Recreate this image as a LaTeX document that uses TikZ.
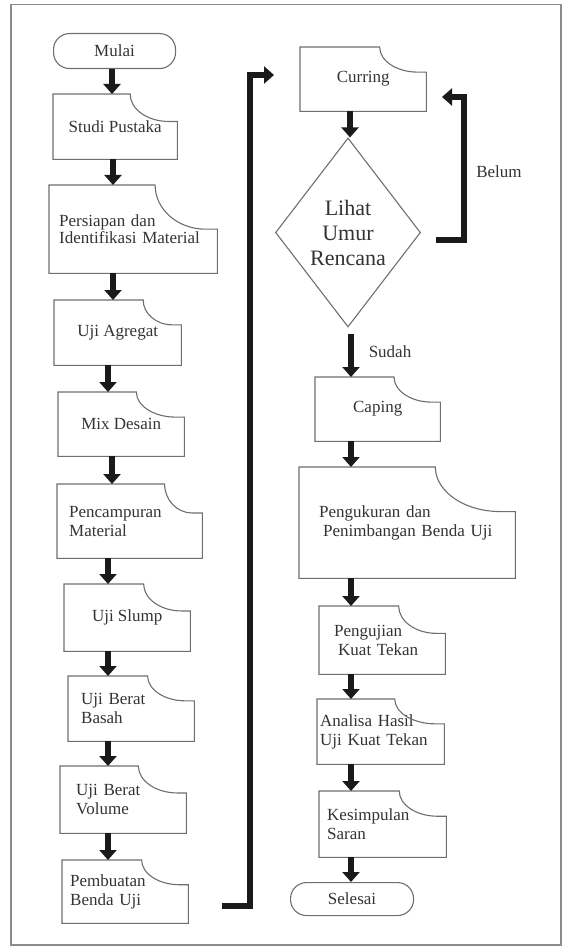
\documentclass[tikz,border=0pt]{standalone}
\usepackage{fontspec}
\setmainfont{Liberation Serif}
\usetikzlibrary{shapes.geometric,arrows.meta,calc}
\definecolor{boxgray}{HTML}{6E6E6E}
\definecolor{txtgray}{HTML}{333333}
\definecolor{arrowblack}{HTML}{1A1A1A}
\definecolor{framegray}{HTML}{8C8C8C}
\tikzset{
  basefont/.style={font=\fontsize{17}{19}\selectfont},
  docbox/.style={rectangle, anchor=north west, inner sep=0pt, text=txtgray, basefont},
  leftbox/.style={docbox, align=left, text width=#1},
  boxline/.style={draw=boxgray, line width=1.1pt, line join=miter},
  termbox/.style={rectangle, rounded corners=16pt, draw=boxgray, line width=1.1pt, anchor=north west, inner sep=0pt, text=txtgray, basefont},
  decision/.style={diamond, draw=boxgray, line width=1.1pt, inner sep=0pt, aspect=0.77, text=txtgray, align=center, font=\fontsize{22}{25}\selectfont},
  flowarrow/.style={draw=arrowblack, line width=6pt, -{Triangle[width=17pt,length=10pt]}},
  looparrow/.style={flowarrow, line join=miter},
  lbl/.style={text=txtgray, basefont, inner sep=0pt},
}
\begin{document}
\begin{tikzpicture}[x=1pt,y=-1pt]
\useasboundingbox (0,0) rectangle (566,949);
\draw[framegray, line width=1.6pt] (11,4.5) rectangle (561,945);

% left column
\node[termbox, minimum width=122pt, minimum height=35pt] (mulai) at (53,33) {Mulai};
\node[docbox, minimum width=124pt, minimum height=65pt] (studi) at (53,94) {Studi Pustaka};
\node[leftbox=148pt, minimum width=168pt, minimum height=88pt, font=\fontsize{17}{15}\selectfont] (persiapan) at (49,185) {Persiapan dan\\Identifikasi Material};
\node[docbox, minimum width=127pt, minimum height=65pt] (agregat) at (54,300) {Uji Agregat};
\node[docbox, minimum width=126pt, minimum height=64pt] (mix) at (58,392) {Mix Desain};
\node[leftbox=121pt, minimum width=145pt, minimum height=74pt] (campur) at (57,484) {Pencampuran\\Material};
\node[docbox, minimum width=126pt, minimum height=67pt] (slump) at (64,584) {Uji Slump};
\node[leftbox=100pt, minimum width=126pt, minimum height=65pt] (basah) at (68,676) {Uji Berat\\Basah};
\node[leftbox=94pt, minimum width=126pt, minimum height=67pt] (volume) at (60,766) {Uji Berat\\Volume};
\node[leftbox=110pt, minimum width=126pt, minimum height=63pt] (pembuatan) at (62,860) {Pembuatan\\Benda Uji};

% right column
\node[docbox, minimum width=126pt, minimum height=64pt] (curring) at (300,47) {Curring};
\node[decision, minimum width=145pt, minimum height=189pt] (dia) at (348,232.5) {Lihat\\Umur\\Rencana};
\node[docbox, minimum width=125pt, minimum height=64pt] (caping) at (315,377) {Caping};
\node[leftbox=176pt, minimum width=216pt, minimum height=111pt] (ukur) at (299,467) {Pengukuran dan\\\hspace*{4pt}Penimbangan Benda Uji};
\node[leftbox=96pt, minimum width=126pt, minimum height=68pt] (uji) at (319,606) {Pengujian\\\hspace*{4pt}Kuat Tekan};
\node[leftbox=121pt, minimum width=127pt, minimum height=65pt] (analisa) at (317,699) {Analisa Hasil\\Uji Kuat Tekan};
\node[leftbox=111pt, minimum width=127pt, minimum height=66pt] (simpul) at (319,791) {Kesimpulan\\Saran};
\node[termbox, minimum width=123pt, minimum height=33pt] (selesai) at (290,882) {Selesai};

\node[lbl] (belum) at (499,172) {Belum};
\node[lbl] (sudah) at (390,352) {Sudah};

% document outlines with notched top-right corner
\foreach \b/\fx/\fy in {studi/0.62/0.42, persiapan/0.63/0.50, agregat/0.70/0.38, mix/0.62/0.39,
  campur/0.74/0.39, slump/0.63/0.40, basah/0.63/0.38, volume/0.62/0.40, pembuatan/0.63/0.39,
  curring/0.63/0.39, caping/0.63/0.39, ukur/0.63/0.40, uji/0.63/0.40, analisa/0.61/0.38, simpul/0.63/0.38}{
  \draw[boxline] let \p1=(\b.north west), \p2=(\b.south east),
      \p3=($(\p1)!\fx!(\x2,\y1)$), \p4=($(\x2,\y1)!\fy!(\p2)$),
      \p5=($(\p1)!0.93!(\x2,\y1)$) in
    (\x1,\y2) -- (\x1,\y1) -- (\x3,\y1)
    .. controls (\x3,{\y1+0.552*(\y4-\y1)}) and ({\x5-0.552*(\x5-\x3)},\y4) .. (\x5,\y4)
    -- (\x2,\y4) -- (\x2,\y2) -- cycle;
}

% arrows, left column
\draw[flowarrow] (112,0 |- mulai.south) -- (112,0 |- studi.north);
\draw[flowarrow] (113,0 |- studi.south) -- (113,0 |- persiapan.north);
\draw[flowarrow] (113,0 |- persiapan.south) -- (113,0 |- agregat.north);
\draw[flowarrow] (108,0 |- agregat.south) -- (108,0 |- mix.north);
\draw[flowarrow] (112,0 |- mix.south) -- (112,0 |- campur.north);
\draw[flowarrow] (108,0 |- campur.south) -- (108,0 |- slump.north);
\draw[flowarrow] (108,0 |- slump.south) -- (108,0 |- basah.north);
\draw[flowarrow] (108,0 |- basah.south) -- (108,0 |- volume.north);
\draw[flowarrow] (108,0 |- volume.south) -- (108,0 |- pembuatan.north);

% long connector to the right column
\coordinate (pbOut) at (222,905.5);
\coordinate (crIn) at (274,75);
\draw[looparrow] (pbOut) -- (250,905.5) -- (250,75) -- (crIn);

% arrows, right column
\draw[flowarrow] (350,0 |- curring.south) -- (350,0 |- dia.north);
\draw[flowarrow, shorten <=6pt] (351,0 |- dia.south) -- (351,0 |- caping.north);
\draw[flowarrow] (351,0 |- caping.south) -- (351,0 |- ukur.north);
\draw[flowarrow] (351,0 |- ukur.south) -- (351,0 |- uji.north);
\draw[flowarrow] (351,0 |- uji.south) -- (351,0 |- analisa.north);
\draw[flowarrow] (351,0 |- analisa.south) -- (351,0 |- simpul.north);
\draw[flowarrow] (351,0 |- simpul.south) -- (351,0 |- selesai.north);

% "Belum" loop back to Curring
\coordinate (blOut) at (436,240);
\coordinate (blIn) at (442,97);
\draw[looparrow] (blOut) -- (464,240) -- (464,97) -- (blIn);
\end{tikzpicture}
\end{document}
